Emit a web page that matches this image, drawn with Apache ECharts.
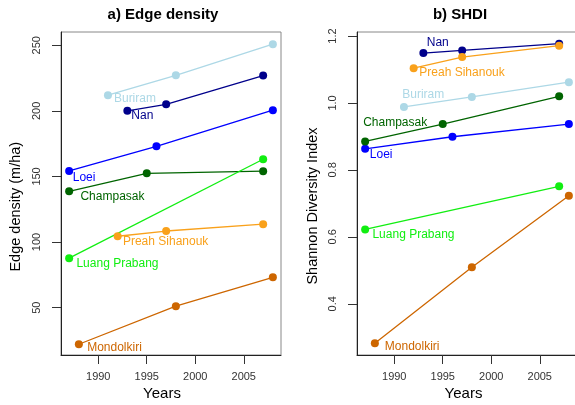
<!DOCTYPE html>
<html>
<head>
<meta charset="utf-8">
<script src="https://cdn.jsdelivr.net/npm/echarts@6/dist/echarts.min.js"></script>
<style>html,body{margin:0;padding:0;background:#fff}#c{width:575px;height:405px}</style>
</head>
<body>
<div id="c"></div>
<script>
// ---- data ----
const sites = ['Buriram', 'Nan', 'Loei', 'Champasak', 'Luang Prabang', 'Preah Sihanouk', 'Mondolkiri'];

const buriramYears = [1991, 1998, 2008];
const nanYears = [1993, 1997, 2007];
const loeiYears = [1987, 1996, 2008];
const champasakYears = [1987, 1995, 2007];
const luangPrabangYears = [1987, 2007];
const preahSihanoukYears = [1992, 1997, 2007];
const mondolkiriYears = [1988, 1998, 2008];

// a) Edge density (m/ha)
const buriramED = [211.9, 227.1, 250.8];
const nanED = [200.0, 205.0, 226.9];
const loeiED = [154.2, 173.0, 200.5];
const champasakED = [138.7, 152.4, 154.0];
const luangPrabangED = [87.7, 163.1];
const preahSihanoukED = [104.4, 108.4, 113.6];
const mondolkiriED = [22.1, 51.1, 73.1];

// b) SHDI
const buriramSHDI = [0.988, 1.018, 1.062];
const nanSHDI = [1.149, 1.157, 1.177];
const loeiSHDI = [0.863, 0.899, 0.937];
const champasakSHDI = [0.885, 0.937, 1.020];
const luangPrabangSHDI = [0.622, 0.751];
const preahSihanoukSHDI = [1.104, 1.137, 1.171];
const mondolkiriSHDI = [0.282, 0.509, 0.723];

const xTicks = [1990, 1995, 2000, 2005];
const edTicks = [50, 100, 150, 200, 250];
const shdiTicks = [0.4, 0.6, 0.8, 1.0, 1.2];

// ---- styling ----
const siteYears = [buriramYears, nanYears, loeiYears, champasakYears, luangPrabangYears, preahSihanoukYears, mondolkiriYears];
const siteED = [buriramED, nanED, loeiED, champasakED, luangPrabangED, preahSihanoukED, mondolkiriED];
const siteSHDI = [buriramSHDI, nanSHDI, loeiSHDI, champasakSHDI, luangPrabangSHDI, preahSihanoukSHDI, mondolkiriSHDI];
const siteColors = ['#ADD8E6', '#00008B', '#0000FF', '#006400', '#11EE11', '#F9A11B', '#CD6600'];
// label offsets (px) relative to first point, per panel
const labelOffsetsA = [[6, 3.3], [4, 5], [3.6, 6.8], [11.3, 5.3], [7.3, 5.7], [5.3, 5.5], [8.3, 3.2]];
const labelOffsetsB = [[-1.7, -12], [3.4, -9.9], [4.7, 5.8], [-2, -19.2], [7.3, 5.5], [5.7, 5], [10, 3.2]];

const FONT = "'Liberation Sans', Arial, Helvetica, sans-serif";

function makeSeries(panel, values, offsets) {
  return sites.map((name, s) => ({
    type: 'line',
    name: name,
    xAxisIndex: panel,
    yAxisIndex: panel,
    symbol: 'circle',
    symbolSize: 8,
    color: siteColors[s],
    lineStyle: { width: 1.3, color: siteColors[s] },
    itemStyle: { color: siteColors[s] },
    emphasis: { disabled: true },
    z: 3,
    data: siteYears[s].map((yr, i) => {
      const item = { value: [yr, values[s][i]] };
      if (i === 0) {
        item.label = {
          show: true,
          position: 'inside',
          align: 'left',
          verticalAlign: 'middle',
          offset: offsets[s],
          formatter: name,
          color: siteColors[s],
          fontSize: 12,
          fontFamily: FONT
        };
      }
      return item;
    })
  }));
}

function xAxisCfg(grid) {
  return {
    gridIndex: grid, type: 'value', min: 1986.16, max: 2008.84,
    splitLine: { show: false },
    axisLine: { show: true, onZero: false, lineStyle: { color: '#222', width: 1 } },
    axisTick: { show: true, length: 9, customValues: xTicks, lineStyle: { color: '#333' } },
    axisLabel: { customValues: xTicks, margin: 16, fontSize: 11, color: '#333', fontFamily: FONT,
      formatter: v => String(Math.round(v)) }
  };
}
function yAxisCfg(grid, min, max, ticks, digits) {
  return {
    gridIndex: grid, type: 'value', min: min, max: max,
    splitLine: { show: false },
    axisLine: { show: true, onZero: false, lineStyle: { color: '#222', width: 1 } },
    axisTick: { show: true, length: 9, customValues: ticks, lineStyle: { color: '#333' } },
    axisLabel: { customValues: ticks, rotate: 90, margin: 19, fontSize: 11, color: '#333', fontFamily: FONT,
      formatter: v => Number(v).toFixed(digits) }
  };
}

function txt(text, x, y, size, bold, rot) {
  return {
    type: 'text', x: x, y: y, rotation: rot || 0, silent: true,
    style: { text: text, fill: '#000', textAlign: 'center', textVerticalAlign: 'middle',
      font: (bold ? 'bold ' : '') + size + 'px ' + FONT }
  };
}

const chart = echarts.init(document.getElementById('c'), null, { renderer: 'canvas' });
chart.setOption({
  animation: false,
  backgroundColor: '#fff',
  grid: [
    { left: 61, top: 32, width: 220, height: 323, show: true, borderColor: '#888', borderWidth: 1, containLabel: false, outerBoundsMode: 'none' },
    { left: 357, top: 32, width: 220, height: 323, show: true, borderColor: '#888', borderWidth: 1, containLabel: false, outerBoundsMode: 'none' }
  ],
  xAxis: [xAxisCfg(0), xAxisCfg(1)],
  yAxis: [yAxisCfg(0, 13.9, 260.1, edTicks, 0), yAxisCfg(1, 0.247, 1.212, shdiTicks, 1)],
  series: makeSeries(0, siteED, labelOffsetsA).concat(makeSeries(1, siteSHDI, labelOffsetsB)),
  graphic: [
    txt('a) Edge density', 163, 15, 15, true),
    txt('b) SHDI', 460, 15, 15, true),
    txt('Years', 162, 394, 15, false),
    txt('Years', 463.5, 394, 15, false),
    txt('Edge density (m/ha)', 16, 206.7, 14.5, false, Math.PI / 2),
    txt('Shannon Diversity Index', 313, 206, 14.5, false, Math.PI / 2)
  ]
});
</script>
</body>
</html>
